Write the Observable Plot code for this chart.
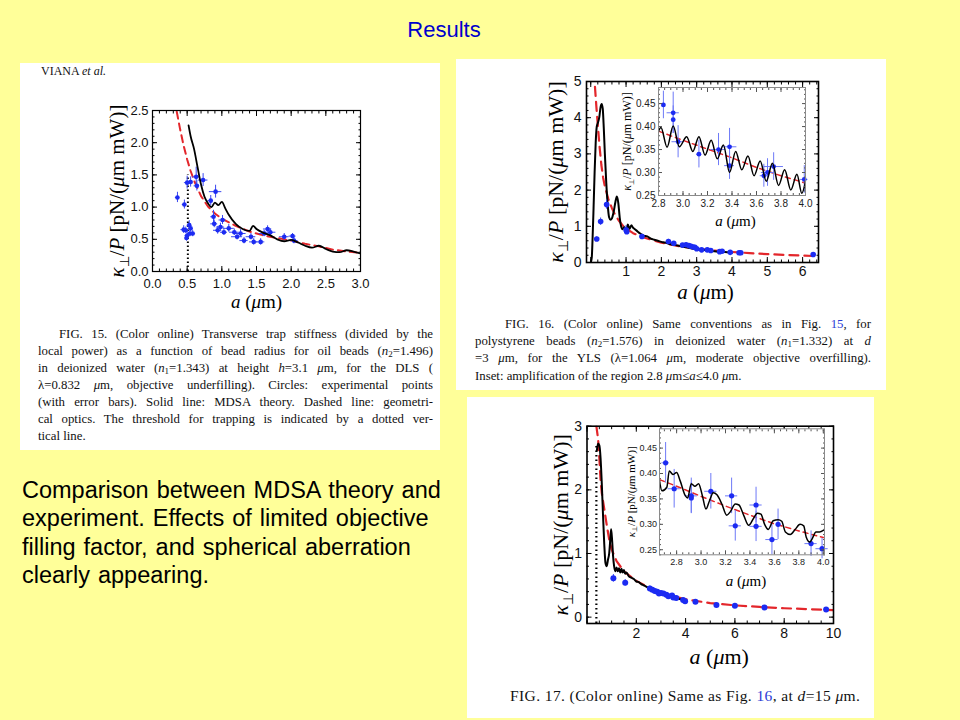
<!DOCTYPE html>
<html><head><meta charset="utf-8">
<script src="https://cdn.jsdelivr.net/npm/d3@7"></script>
<script src="https://cdn.jsdelivr.net/npm/@observablehq/plot@0.6"></script>
<style>
html,body{margin:0;padding:0;}
body{width:960px;height:720px;background:#ffff99;position:relative;overflow:hidden;font-family:"Liberation Sans",Arial,sans-serif;}
.panel{position:absolute;background:#fff;}
.cap{position:absolute;font-family:"Liberation Serif","Times New Roman",serif;color:#111;}
.cap div{white-space:nowrap;}
.cap .j{text-align:justify;text-align-last:justify;}
.cap sub{font-size:0.7em;vertical-align:-0.2em;line-height:0;}
.blue{color:#2a3bd6;}
svg.pl{position:absolute;}
</style></head>
<body>
<div class="panel" style="left:20px;top:63px;width:420px;height:387px"></div>
<div class="panel" style="left:456px;top:59px;width:430px;height:331px"></div>
<div class="panel" style="left:467px;top:397px;width:407px;height:321px"></div>

<div style="position:absolute;left:344px;top:17px;width:200px;text-align:center;color:#0000cc;font-size:22px;">Results</div>

<div style="position:absolute;left:22px;top:476px;font-size:23.5px;word-spacing:1.5px;line-height:28.3px;color:#000;white-space:nowrap">Comparison between MDSA theory and<br>experiment. Effects of limited objective<br>filling factor, and spherical aberration<br>clearly appearing.</div>

<div class="cap" style="left:41px;top:64px;font-size:12px;">VIANA <i>et al.</i></div>

<div class="cap" style="left:38px;top:326px;width:395px;font-size:12.8px;line-height:17px">
<div class="j" style="text-indent:21px">FIG. 15. (Color online) Transverse trap stiffness (divided by the</div>
<div class="j">local power) as a function of bead radius for oil beads (<i>n</i><sub>2</sub>=1.496)</div>
<div class="j">in deionized water (<i>n</i><sub>1</sub>=1.343) at height <i>h</i>=3.1 <i>μ</i>m, for the DLS (</div>
<div class="j">λ=0.832 <i>μ</i>m, objective underfilling). Circles: experimental points</div>
<div class="j">(with error bars). Solid line: MDSA theory. Dashed line: geometri-</div>
<div class="j">cal optics. The threshold for trapping is indicated by a dotted ver-</div>
<div>tical line.</div>
</div>

<div class="cap" style="left:475px;top:316px;width:396px;font-size:12.8px;line-height:17.2px">
<div class="j" style="text-indent:30px">FIG. 16. (Color online) Same conventions as in Fig. <span class="blue">15</span>, for</div>
<div class="j">polystyrene beads (<i>n</i><sub>2</sub>=1.576) in deionized water (<i>n</i><sub>1</sub>=1.332) at <i>d</i></div>
<div class="j">=3 <i>μ</i>m, for the YLS (λ=1.064 <i>μ</i>m, moderate objective overfilling).</div>
<div>Inset: amplification of the region 2.8 <i>μ</i>m≤<i>a</i>≤4.0 <i>μ</i>m.</div>
</div>

<div class="cap" style="left:510px;top:686px;font-size:15.5px;letter-spacing:0.4px;line-height:19px">
<div>FIG. 17. (Color online) Same as Fig. <span class="blue">16</span>, at <i>d</i>=15 <i>μ</i>m.</div>
</div>

<script>
// ---------------- DATA ----------------
// Fig. 15 (oil beads, DLS)
const f15GeoA = [0.35,0.40,0.45,0.50,0.55,0.60,0.70,0.80,0.90,1.00,1.20,1.40,1.60,1.80,2.00,2.20,2.40,2.60,2.80,3.00];
const f15GeoK = [2.48,2.20,1.95,1.74,1.56,1.41,1.17,1.01,0.90,0.82,0.71,0.62,0.56,0.52,0.48,0.43,0.39,0.34,0.31,0.29];
const f15MdsaA = [0.52,0.55,0.60,0.65,0.70,0.75,0.80,0.85,0.90,0.95,1.00,1.05,1.10,1.20,1.30,1.40,1.45,1.50,1.60,1.70,1.80,1.90,2.00,2.10,2.20,2.30,2.40,2.50,2.60,2.70,2.80,2.90,3.00];
const f15MdsaK = [2.27,2.10,1.90,1.62,1.35,1.16,1.06,1.00,1.07,1.03,1.08,0.98,0.88,0.74,0.66,0.63,0.71,0.66,0.60,0.56,0.50,0.47,0.49,0.45,0.40,0.37,0.40,0.35,0.31,0.30,0.33,0.31,0.28];
const f15PtA  = [0.36,0.46,0.50,0.55,0.63,0.64,0.73,0.91,0.84,0.88,0.89,1.01,0.98,0.94,1.03,1.10,1.18,1.27,1.22,1.32,1.42,1.46,1.56,1.61,1.70,1.66,1.90,2.04,2.02,0.45,0.48,0.50,0.53,0.54,0.58,0.49,0.55];
const f15PtK  = [1.15,1.04,1.38,1.39,1.47,1.33,1.42,1.24,1.10,0.85,0.74,0.80,0.69,0.64,0.61,0.67,0.61,0.59,0.54,0.48,0.54,0.46,0.46,0.59,0.61,0.66,0.54,0.48,0.55,0.65,0.64,0.56,0.72,0.59,0.59,0.52,0.67];
const f15PtEA = [0.03,0.03,0.04,0.03,0.05,0.04,0.07,0.09,0.04,0.04,0.05,0.05,0.06,0.06,0.05,0.08,0.07,0.08,0.08,0.06,0.07,0.06,0.06,0.07,0.08,0.06,0.07,0.06,0.05,0.04,0.03,0.03,0.03,0.03,0.03,0.02,0.03];
const f15PtEK = [0.08,0.07,0.10,0.08,0.15,0.08,0.10,0.10,0.08,0.10,0.06,0.07,0.06,0.06,0.05,0.06,0.05,0.06,0.05,0.05,0.05,0.05,0.05,0.05,0.05,0.05,0.05,0.05,0.04,0.06,0.05,0.06,0.07,0.05,0.05,0.05,0.05];
const f15Threshold = 0.51, f15ThresholdTop = 1.5;
const f15XTicks = [0,0.5,1,1.5,2,2.5,3], f15YTicks = [0,0.5,1,1.5,2,2.5];

// Fig. 16 (polystyrene beads, YLS, d = 3 µm)
const f16GeoA = [0.12,0.16,0.20,0.25,0.30,0.35,0.40,0.50,0.60,0.70,0.80,0.90,1.00,1.20,1.50,2.00,2.50,3.00,3.50,4.00,4.50,5.00,5.50,6.00,6.45];
const f16GeoK = [4.85,4.30,3.80,3.20,2.70,2.35,2.10,1.75,1.50,1.30,1.15,1.03,0.94,0.81,0.69,0.55,0.45,0.38,0.33,0.29,0.26,0.23,0.21,0.19,0.175];
const f16MdsaA = [0.00,0.03,0.05,0.08,0.11,0.14,0.17,0.20,0.24,0.28,0.31,0.34,0.37,0.40,0.44,0.48,0.52,0.56,0.60,0.65,0.70,0.74,0.78,0.82,0.86,0.90,0.95,1.00,1.05,1.10,1.15,1.20,1.25,1.30,1.40,1.50,1.60,1.70,1.80,1.90,2.00,2.10,2.20,2.30,2.40,2.50,2.60,2.70,2.80,2.90,3.00,3.10,3.20,3.30,3.40,3.50,3.60,3.70,3.80,3.90,4.00];
const f16MdsaK = [0.00,0.15,0.60,1.50,2.50,3.30,3.75,3.85,4.00,4.30,4.38,4.25,3.70,3.00,2.20,1.60,1.25,1.18,1.22,1.40,1.68,1.82,1.65,1.25,1.00,0.92,0.98,0.88,1.05,0.93,1.03,0.96,0.92,0.88,0.80,0.74,0.72,0.66,0.63,0.60,0.57,0.55,0.52,0.50,0.48,0.46,0.44,0.42,0.40,0.38,0.37,0.35,0.35,0.33,0.32,0.31,0.30,0.29,0.29,0.28,0.27];
const f16PtA  = [0.17,0.28,0.45,1.00,1.02,1.45,2.20,2.35,2.60,2.70,2.78,2.84,2.90,2.95,3.00,3.14,3.30,3.40,3.65,3.72,3.95,4.20,4.25,6.30];
const f16PtK  = [0.65,1.13,1.60,0.90,0.85,0.72,0.58,0.53,0.48,0.49,0.47,0.45,0.43,0.42,0.38,0.35,0.35,0.33,0.30,0.31,0.28,0.27,0.27,0.22];
const f16PtEA = [0.02,0.02,0.03,0.03,0,0.03,0.02,0,0,0.02,0,0.02,0,0.02,0,0.02,0.02,0,0.02,0,0.02,0,0.02,0.02];
const f16PtEK = [0.06,0.10,0.13,0.12,0.06,0.06,0.06,0.04,0.04,0.05,0.04,0.04,0.04,0.04,0.03,0.03,0.03,0.03,0.03,0.03,0.03,0.03,0.03,0.03];
const f16XLabels = [1,2,3,4,5,6], f16XTicks = [0,1,2,3,4,5,6], f16YTicks = [0,1,2,3,4,5];
// Fig. 16 inset
const f16inGeoA = [2.80,3.00,3.20,3.40,3.60,3.80,4.00];
const f16inGeoK = [0.390,0.370,0.351,0.332,0.311,0.293,0.277];
const f16inMdsaA = [2.80,2.82,2.87,2.92,2.97,3.03,3.08,3.13,3.18,3.23,3.28,3.33,3.38,3.43,3.48,3.53,3.58,3.63,3.68,3.73,3.78,3.83,3.88,3.93,3.97,4.00];
const f16inMdsaK = [0.390,0.398,0.355,0.401,0.356,0.378,0.346,0.378,0.338,0.370,0.330,0.360,0.300,0.346,0.306,0.336,0.293,0.325,0.281,0.320,0.272,0.306,0.262,0.296,0.255,0.280];
const f16inPtA  = [2.84,2.92,2.92,2.96,3.13,3.29,3.38,3.38,3.66,3.69,3.74,3.99];
const f16inPtK  = [0.447,0.430,0.415,0.367,0.340,0.350,0.356,0.315,0.293,0.300,0.313,0.285];
const f16inPtEA = [0.00,0.05,0.00,0.05,0.02,0.06,0.06,0.04,0.03,0.05,0.08,0.03];
const f16inPtEK = [0.030,0.045,0.030,0.035,0.030,0.035,0.040,0.030,0.025,0.030,0.030,0.030];
const insetXTicks = [2.8,3.0,3.2,3.4,3.6,3.8,4.0], insetYTicks = [0.25,0.30,0.35,0.40,0.45];

// Fig. 17 (d = 15 µm)
const f17GeoA = [0.38,0.45,0.50,0.55,0.60,0.70,0.80,0.90,1.00,1.20,1.50,2.00,2.50,3.00,3.50,4.00,5.00,6.00,7.00,8.00,9.00,10.00];
const f17GeoK = [3.00,2.80,2.50,2.15,1.95,1.70,1.45,1.22,1.06,0.88,0.72,0.57,0.47,0.39,0.33,0.28,0.22,0.185,0.16,0.14,0.125,0.11];
const f17MdsaA = [0.40,0.45,0.50,0.55,0.60,0.65,0.70,0.75,0.80,0.85,0.90,0.95,0.98,1.02,1.06,1.10,1.15,1.20,1.25,1.30,1.35,1.40,1.45,1.50,1.55,1.60,1.70,1.80,1.90,2.00,2.10,2.20,2.30,2.40,2.50,2.60,2.70,2.80,2.90,3.00,3.10,3.20,3.30,3.40,3.50,3.60,3.70,3.80,3.90];
const f17MdsaK = [2.62,2.73,2.70,2.50,2.10,1.60,1.15,0.85,0.80,0.90,1.00,1.25,1.38,1.20,0.95,0.80,0.72,0.78,0.72,0.77,0.70,0.76,0.70,0.74,0.68,0.70,0.64,0.62,0.60,0.56,0.55,0.52,0.50,0.48,0.46,0.44,0.42,0.41,0.38,0.37,0.36,0.34,0.33,0.32,0.31,0.30,0.29,0.28,0.27];
const f17PtA  = [1.07,1.55,2.55,2.65,2.75,2.85,2.92,3.00,3.10,3.22,3.30,3.45,3.50,3.62,3.90,3.98,4.40,5.25,6.00,7.20,9.70];
const f17PtK  = [0.61,0.54,0.45,0.43,0.41,0.40,0.37,0.38,0.37,0.35,0.33,0.34,0.31,0.30,0.27,0.25,0.24,0.19,0.18,0.15,0.12];
const f17PtEA = [0.02,0.03,0.02,0,0.02,0,0.02,0,0.02,0,0.02,0,0.02,0,0.02,0,0.02,0,0,0,0];
const f17PtEK = [0.06,0.05,0.04,0.03,0.04,0.03,0.03,0.03,0.03,0.03,0.03,0.03,0.03,0.03,0.02,0.02,0.02,0.02,0.02,0.02,0.02];
const f17Threshold = 0.38, f17ThresholdTop = 2.7;
const f17XLabels = [2,4,6,8,10], f17XTicks = [0,2,4,6,8,10], f17YTicks = [0,1,2,3];
// Fig. 17 inset
const f17inGeoA = [2.66,2.80,3.00,3.20,3.40,3.60,3.80,4.00];
const f17inGeoK = [0.388,0.375,0.355,0.336,0.318,0.301,0.287,0.274];
const f17inMdsaA = [2.66,2.68,2.72,2.74,2.77,2.80,2.83,2.87,2.89,2.92,2.95,2.98,3.01,3.04,3.07,3.10,3.13,3.17,3.21,3.24,3.28,3.31,3.35,3.39,3.43,3.46,3.49,3.52,3.55,3.59,3.63,3.66,3.69,3.73,3.77,3.81,3.84,3.86,3.89,3.91,3.94,3.97,4.00];
const f17inMdsaK = [0.386,0.366,0.373,0.405,0.398,0.402,0.385,0.357,0.352,0.380,0.375,0.380,0.357,0.330,0.347,0.362,0.358,0.340,0.318,0.325,0.340,0.338,0.317,0.298,0.312,0.322,0.320,0.300,0.290,0.307,0.309,0.306,0.285,0.280,0.290,0.300,0.297,0.275,0.265,0.272,0.285,0.285,0.288];
const f17inPtA  = [2.71,2.78,2.92,2.92,3.08,3.25,3.28,3.45,3.45,3.58,3.63,3.90,3.99];
const f17inPtK  = [0.421,0.370,0.356,0.352,0.365,0.356,0.297,0.338,0.296,0.270,0.300,0.262,0.252];
const f17inPtEA = [0.03,0.05,0.05,0.00,0.05,0.05,0.05,0.05,0.05,0.05,0.00,0.05,0.05];
const f17inPtEK = [0.040,0.038,0.035,0.030,0.035,0.035,0.030,0.035,0.030,0.030,0.030,0.025,0.020];

const YLAB = "κ⊥/P [pN/(μm mW)]";
const XLAB = "a (μm)";

// ---------------- HELPERS ----------------
const SANS = "'Liberation Sans',Arial,sans-serif";
const SERIF = "'Liberation Serif','Times New Roman',serif";
const RED = "#e3262b", BLUE = "#1c2bf2";

function pts(A, K, EA, EK) { return A.map((a, i) => ({a, k: K[i], ea: EA[i], ek: EK[i]})); }
function within(arr, dom) { return arr.filter(v => v >= dom[0] - 1e-9 && v <= dom[1] + 1e-9); }

function frameMarks(o) {
  const m = [];
  const tc = o.tickColor || "#000";
  for (const a of ["bottom", "top"]) {
    m.push(Plot.axisX(o.xTicks, {anchor: a, tickSize: -o.major, fill: "none", stroke: tc, label: null}));
    m.push(Plot.axisX(o.xMinor, {anchor: a, tickSize: -o.minor, fill: "none", stroke: tc, label: null}));
  }
  for (const a of ["left", "right"]) {
    m.push(Plot.axisY(o.yTicks, {anchor: a, tickSize: -o.major, fill: "none", stroke: tc, label: null}));
    m.push(Plot.axisY(o.yMinor, {anchor: a, tickSize: -o.minor, fill: "none", stroke: tc, label: null}));
  }
  m.push(Plot.axisX(o.xLabels, {anchor: "bottom", tickSize: 0, tickPadding: o.xPad, tickFormat: o.xFmt, label: null, fontSize: o.fs, fontFamily: SANS, fill: o.textColor || "#111"}));
  m.push(Plot.axisY(o.yLabels, {anchor: "left", tickSize: 0, tickPadding: o.yPad, tickFormat: o.yFmt, label: null, fontSize: o.fs, fontFamily: SANS, fill: o.textColor || "#111"}));
  m.push(Plot.frame({stroke: o.frameColor || "#000", strokeWidth: o.frameWidth || 1.3}));
  return m;
}
function labelMarks(o) {
  return [
    Plot.text([YLAB], {text: d => d, frameAnchor: "left", textAnchor: "middle", lineAnchor: "middle", rotate: -90, dx: o.ydx, dy: o.ydy || 0, fontSize: o.yfs, fontFamily: SERIF, fill: "#000"}),
    Plot.text([XLAB], {text: d => d, frameAnchor: "bottom", textAnchor: "middle", lineAnchor: "middle", dx: o.xdx || 0, dy: o.xdy, fontSize: o.xfs, fontFamily: SERIF, fill: "#000"})
  ];
}
function pointMarks(P, o) {
  return [
    Plot.ruleX(P.filter(d => d.ek > 0), {x: "a", y1: d => d.k - d.ek, y2: d => d.k + d.ek, stroke: o.ebar, strokeWidth: o.ew || 1}),
    Plot.ruleY(P.filter(d => d.ea > 0), {y: "k", x1: d => d.a - d.ea, x2: d => d.a + d.ea, stroke: o.ebar, strokeWidth: o.ew || 1}),
    Plot.dot(P, {x: "a", y: "k", r: o.r, fill: BLUE, stroke: "none"})
  ];
}
function place(svg, left, top) {
  svg.classList.add("pl");
  svg.style.left = left + "px";
  svg.style.top = top + "px";
  svg.querySelectorAll("text").forEach(t => {
    if (t.textContent === YLAB) {
      t.innerHTML = '<tspan font-style="italic">κ</tspan><tspan font-size="62%" dy="0.4em">⊥</tspan><tspan dy="-0.248em">/</tspan><tspan font-style="italic">P</tspan><tspan> [pN/(</tspan><tspan font-style="italic">μ</tspan><tspan>m mW)]</tspan>';
    } else if (t.textContent === XLAB) {
      t.innerHTML = '<tspan font-style="italic">a</tspan><tspan> (</tspan><tspan font-style="italic">μ</tspan><tspan>m)</tspan>';
    }
  });
  document.body.appendChild(svg);
}
const STYLE = {background: "transparent", overflow: "visible"};

// ---------------- FIG 15 ----------------
{
  const xd = [0, 3], yd = [0, 2.5];
  const svg = Plot.plot({
    width: 290, height: 230, marginLeft: 62, marginRight: 20, marginTop: 15, marginBottom: 54,
    style: STYLE,
    x: {domain: xd}, y: {domain: yd},
    marks: [
      Plot.frame({fill: "white"}),
      Plot.ruleX([f15Threshold], {y1: 0, y2: f15ThresholdTop, stroke: "#000", strokeWidth: 2, strokeDasharray: "1.5,2.5"}),
      Plot.line(f15GeoA, {x: f15GeoA, y: f15GeoK, stroke: RED, strokeWidth: 2, strokeDasharray: "7,5", clip: true}),
      ...pointMarks(pts(f15PtA, f15PtK, f15PtEA, f15PtEK), {ebar: "#3a48f0", ew: 1, r: 2.3}),
      Plot.line(f15MdsaA, {x: f15MdsaA, y: f15MdsaK, stroke: "#000", strokeWidth: 1.8, curve: "monotone-x", clip: true}),
      ...frameMarks({xTicks: f15XTicks, yTicks: f15YTicks, xMinor: within(d3.range(0, 3.0001, 0.1), xd), yMinor: within(d3.range(0, 2.5001, 0.1), yd),
        xLabels: f15XTicks, yLabels: f15YTicks, xFmt: ".1f", yFmt: ".1f", fs: 13, xPad: 7, yPad: 4, major: 5, minor: 2.5, frameWidth: 1.2}),
      ...labelMarks({ydx: -35, yfs: 21, xdy: 30, xfs: 19})
    ]
  });
  place(svg, 90, 95);
}

// ---------------- FIG 16 ----------------
{
  const xd = [-0.12, 6.45], yd = [0, 5];
  const svg = Plot.plot({
    width: 340, height: 250, marginLeft: 86, marginRight: 22, marginTop: 19, marginBottom: 50,
    style: STYLE,
    x: {domain: xd}, y: {domain: yd},
    marks: [
      Plot.frame({fill: "white"}),
      Plot.line(f16GeoA, {x: f16GeoA, y: f16GeoK, stroke: RED, strokeWidth: 2.2, strokeDasharray: "9,6", clip: true}),
      Plot.line(f16MdsaA, {x: f16MdsaA, y: f16MdsaK, stroke: "#000", strokeWidth: 2, curve: "monotone-x", clip: true}),
      ...pointMarks(pts(f16PtA, f16PtK, f16PtEA, f16PtEK), {ebar: "#3a48f0", ew: 1, r: 2.8}),
      ...frameMarks({xTicks: f16XTicks, yTicks: f16YTicks, xMinor: within(d3.range(0, 6.5, 0.2), xd), yMinor: within(d3.range(0, 5.0001, 0.2), yd),
        xLabels: f16XLabels, yLabels: f16YTicks, xFmt: d => String(d), yFmt: d => String(d), fs: 14, xPad: 4, yPad: 5, major: 5, minor: 2.5, frameWidth: 1.6}),
      ...labelMarks({ydx: -31, yfs: 22, xdy: 30, xdx: 3, xfs: 21})
    ]
  });
  place(svg, 500, 62);
}
{
  const xd = [2.8, 4.0], yd = [0.25, 0.485];
  const svg = Plot.plot({
    width: 195, height: 151, marginLeft: 42, marginRight: 6, marginTop: 3, marginBottom: 40,
    style: STYLE,
    x: {domain: xd}, y: {domain: yd},
    marks: [
      Plot.frame({fill: "white"}),
      Plot.line(f16inGeoA, {x: f16inGeoA, y: f16inGeoK, stroke: RED, strokeWidth: 1.5, strokeDasharray: "5,4", clip: true}),
      ...pointMarks(pts(f16inPtA, f16inPtK, f16inPtEA, f16inPtEK), {ebar: "#6d79f7", ew: 1, r: 2.4}),
      Plot.line(f16inMdsaA, {x: f16inMdsaA, y: f16inMdsaK, stroke: "#000", strokeWidth: 1.5, curve: "monotone-x", clip: true}),
      ...frameMarks({xTicks: insetXTicks, yTicks: insetYTicks, xMinor: within(d3.range(2.8, 4.0001, 0.05), xd), yMinor: within(d3.range(0.25, 0.4851, 0.01), yd),
        xLabels: insetXTicks, yLabels: insetYTicks, xFmt: ".1f", yFmt: ".2f", fs: 10, xPad: 4, yPad: 3, major: 4, minor: 2, frameColor: "#8a8a8a", frameWidth: 1, tickColor: "#555", textColor: "#222"}),
      ...labelMarks({ydx: -31, yfs: 12, xdy: 26, xdx: 3.5, xfs: 15})
    ]
  });
  place(svg, 616, 84);
}

// ---------------- FIG 17 ----------------
{
  const xd = [0, 10], yd = [-0.1, 3];
  const svg = Plot.plot({
    width: 350, height: 265, marginLeft: 86.5, marginRight: 17, marginTop: 15.7, marginBottom: 52,
    style: STYLE,
    x: {domain: xd}, y: {domain: yd},
    marks: [
      Plot.frame({fill: "white"}),
      Plot.ruleX([f17Threshold], {y1: yd[0], y2: f17ThresholdTop, stroke: "#000", strokeWidth: 2.2, strokeDasharray: "1.5,3"}),
      Plot.line(f17GeoA, {x: f17GeoA, y: f17GeoK, stroke: RED, strokeWidth: 2.2, strokeDasharray: "9,6", clip: true}),
      Plot.line(f17MdsaA, {x: f17MdsaA, y: f17MdsaK, stroke: "#000", strokeWidth: 2, curve: "monotone-x", clip: true}),
      ...pointMarks(pts(f17PtA, f17PtK, f17PtEA, f17PtEK), {ebar: "#3a48f0", ew: 1, r: 3}),
      ...frameMarks({xTicks: f17XTicks, yTicks: f17YTicks, xMinor: within(d3.range(0, 10.0001, 0.5), xd), yMinor: within(d3.range(0, 3.0001, 0.2), yd),
        xLabels: f17XLabels, yLabels: f17YTicks, xFmt: d => String(d), yFmt: d => String(d), fs: 14, xPad: 5, yPad: 5, major: 5, minor: 2.5, frameWidth: 1.6}),
      ...labelMarks({ydx: -26.5, yfs: 22, xdy: 33, xdx: 9, xfs: 22})
    ]
  });
  place(svg, 500, 410);
}
{
  const xd = [2.66, 4.01], yd = [0.24, 0.488];
  const svg = Plot.plot({
    width: 210, height: 165, marginLeft: 39, marginRight: 6, marginTop: 2.3, marginBottom: 36.7,
    style: STYLE,
    x: {domain: xd}, y: {domain: yd},
    marks: [
      Plot.frame({fill: "white"}),
      Plot.line(f17inGeoA, {x: f17inGeoA, y: f17inGeoK, stroke: RED, strokeWidth: 1.5, strokeDasharray: "5,4", clip: true}),
      ...pointMarks(pts(f17inPtA, f17inPtK, f17inPtEA, f17inPtEK), {ebar: "#6d79f7", ew: 1, r: 2.6}),
      Plot.line(f17inMdsaA, {x: f17inMdsaA, y: f17inMdsaK, stroke: "#000", strokeWidth: 1.5, curve: "monotone-x", clip: true}),
      ...frameMarks({xTicks: insetXTicks, yTicks: insetYTicks, xMinor: within(d3.range(2.7, 4.0001, 0.05), xd), yMinor: within(d3.range(0.24, 0.4881, 0.01), yd),
        xLabels: insetXTicks, yLabels: insetYTicks, xFmt: ".1f", yFmt: ".2f", fs: 9, xPad: 4, yPad: 2.5, major: 4, minor: 2, frameColor: "#8a8a8a", frameWidth: 1, tickColor: "#555", textColor: "#222"}),
      ...labelMarks({ydx: -28.5, yfs: 11, xdy: 26, xdx: 4, xfs: 15})
    ]
  });
  place(svg, 620, 426);
}
</script>
</body></html>
